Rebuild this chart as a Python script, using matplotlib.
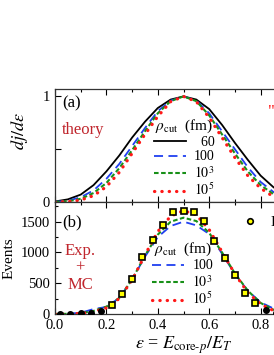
import numpy as np
import matplotlib
matplotlib.use('Agg')
import matplotlib.pyplot as plt
from matplotlib.ticker import MultipleLocator, FixedLocator
from matplotlib.lines import Line2D

plt.rcParams['font.family'] = 'Liberation Serif'
plt.rcParams['mathtext.fontset'] = 'stix'

# panel (a): theory curves, eps = 0, 0.05, ..., 1.0
eps_th = np.linspace(0, 1, 21)
th_60 = [0.005, 0.025, 0.07, 0.16, 0.29, 0.44, 0.61, 0.76, 0.89, 0.97, 1.0,
         0.97, 0.88, 0.73, 0.56, 0.40, 0.25, 0.14, 0.06, 0.02, 0.004]
th_100 = [0.002, 0.012, 0.045, 0.11, 0.22, 0.36, 0.53, 0.70, 0.86, 0.96, 1.0,
          0.96, 0.84, 0.67, 0.50, 0.33, 0.19, 0.095, 0.04, 0.01, 0.002]
th_1e3 = [0.001, 0.007, 0.03, 0.085, 0.18, 0.32, 0.49, 0.67, 0.84, 0.955, 1.0,
          0.955, 0.82, 0.64, 0.46, 0.29, 0.16, 0.075, 0.025, 0.006, 0.001]
th_1e5 = [0.0, 0.004, 0.018, 0.06, 0.145, 0.28, 0.46, 0.64, 0.81, 0.95, 1.0,
          0.95, 0.80, 0.61, 0.42, 0.25, 0.13, 0.05, 0.015, 0.003, 0.0]

# panel (b): experiment and MC
eps_mc = np.linspace(0, 1, 21)
mc_100 = [0, 5, 20, 80, 115, 260, 560, 930, 1250, 1430, 1500, 1440, 1300, 980, 650, 380, 190, 90, 30, 8, 0]
mc_1e3 = [0, 3, 12, 50, 120, 260, 560, 950, 1290, 1500, 1565, 1510, 1320, 1000, 660, 380, 180, 70, 20, 5, 0]
mc_1e5 = [0, 2, 8, 35, 100, 250, 550, 960, 1340, 1590, 1680, 1610, 1370, 1010, 650, 350, 160, 55, 15, 3, 0]

eps_exp = [0.02, 0.06, 0.10, 0.14, 0.18, 0.22, 0.26, 0.30, 0.34, 0.38, 0.42, 0.46,
           0.50, 0.54, 0.58, 0.62, 0.66, 0.70, 0.74, 0.78, 0.82, 0.86]
events = [2, 5, 11, 21, 49, 147, 326, 565, 933, 1205, 1450, 1656,
          1672, 1650, 1515, 1194, 907, 635, 337, 184, 65, 20]

labels = ['  60', '100', '$10^3$', '$10^5$']
red_txt = '#c0262d'
c_blue = '#2040f0'
c_green = '#189018'
c_red = '#ff1818'

styles = [dict(color='k', lw=1.3, ls='-'),
          dict(color=c_blue, lw=1.3, ls=(0, (5, 3))),
          dict(color=c_green, lw=1.5, ls=(0, (2.2, 1.2))),
          dict(color=c_red, lw=2.3, ls=(0, (0.1, 2.2)), dash_capstyle='round')]

fig = plt.figure(figsize=(2.74, 3.55), dpi=100)
axw = 257 / 274
ax1 = fig.add_axes([55 / 274, 1 - 202 / 355, axw, 113 / 355])
ax2 = fig.add_axes([55 / 274, 1 - 314 / 355, axw, 112 / 355])

for ax in (ax1, ax2):
    ax.set_xlim(0, 1)
    ax.xaxis.set_major_locator(MultipleLocator(0.2))
    ax.xaxis.set_minor_locator(MultipleLocator(0.1))
    ax.tick_params(which='both', direction='in', top=True, right=True, labelsize=10.5)
    ax.tick_params(which='major', length=4, width=0.8)
    ax.tick_params(which='minor', length=2.5, width=0.8)
    for s in ax.spines.values():
        s.set_linewidth(0.9)
        s.set_color('#333333')

# (a)
for y, lab, st in zip([th_60, th_100, th_1e3, th_1e5], labels, styles):
    ax1.plot(eps_th, y, label=lab, **st)
ax1.set_ylim(0, 1.07)
ax1.yaxis.set_major_locator(FixedLocator([0, 0.5, 1]))
ax1.set_yticklabels(['0', '', '1'])
ax1.tick_params(labelbottom=False)
ax1.set_ylabel(r'$dj/d\varepsilon$', fontsize=13)
ax1.yaxis.set_label_coords(-0.097, 0.63)
ax1.text(0.027, 0.87, '(a)', transform=ax1.transAxes, fontsize=12, va='center')
ax1.text(0.027, 0.64, 'theory', transform=ax1.transAxes, fontsize=12, va='center', color=red_txt)
ax1.text(0.83, 0.80, '"', transform=ax1.transAxes, fontsize=12, va='center', color=c_red)
ax1.legend(loc='upper left', bbox_to_anchor=(0.385, 0.75), frameon=False, fontsize=10,
           title=r'$\rho_{\rm cut}$  (fm)', title_fontsize=11, borderpad=0, borderaxespad=0,
           handlelength=2.3, handletextpad=0.6, labelspacing=0.1)

# (b)
lines = []
for y, lab, st in zip([mc_100, mc_1e3, mc_1e5], labels[1:], styles[1:]):
    lines += ax2.plot(eps_mc, y, label=lab, **st)
eps_exp = np.array(eps_exp)
events = np.array(events)
big = (eps_exp > 0.2) & (eps_exp < 0.8)
ax2.plot(eps_exp[~big], events[~big], 'o', ms=4, mfc='k', mec='k', zorder=5)
ax2.plot(eps_exp[big], events[big], 's', ms=4.3, mfc='#ffff00', mec='k', mew=1.2, zorder=5)
ax2.set_ylim(0, 1820)
ax2.yaxis.set_major_locator(MultipleLocator(500))
ax2.yaxis.set_minor_locator(MultipleLocator(250))
ax2.set_ylabel('Events', fontsize=11)
ax2.yaxis.set_label_coords(-0.153, 0.5)
ax2.set_xlabel(r'$\varepsilon$ = $E_{\mathrm{core}\text{-}p}/E_T$', fontsize=13, labelpad=2)
ax2.text(0.027, 0.82, '(b)', transform=ax2.transAxes, fontsize=12, va='center')
ax2.text(0.097, 0.41, 'Exp.\n+\nMC', transform=ax2.transAxes, fontsize=12, va='center',
         ha='center', color=red_txt, linespacing=1.05)
leg = ax2.legend(handles=lines, loc='upper left', bbox_to_anchor=(0.378, 0.655), frameon=False,
                 fontsize=10, title=r'$\rho_{\rm cut}$  (fm)', title_fontsize=11, borderpad=0,
                 borderaxespad=0, handlelength=2.3, handletextpad=0.6, labelspacing=0.1)
ax2.add_artist(leg)
h_exp = Line2D([], [], ls='none', marker='o', ms=4, mfc='#ffff00', mec='k', mew=1.2)
ax2.legend(handles=[h_exp], labels=['Exp.'], loc='center left', bbox_to_anchor=(0.73, 0.82),
           frameon=False, fontsize=11, borderpad=0, borderaxespad=0, handlelength=1, handletextpad=0.8)

fig.savefig('out.png', dpi=100)
